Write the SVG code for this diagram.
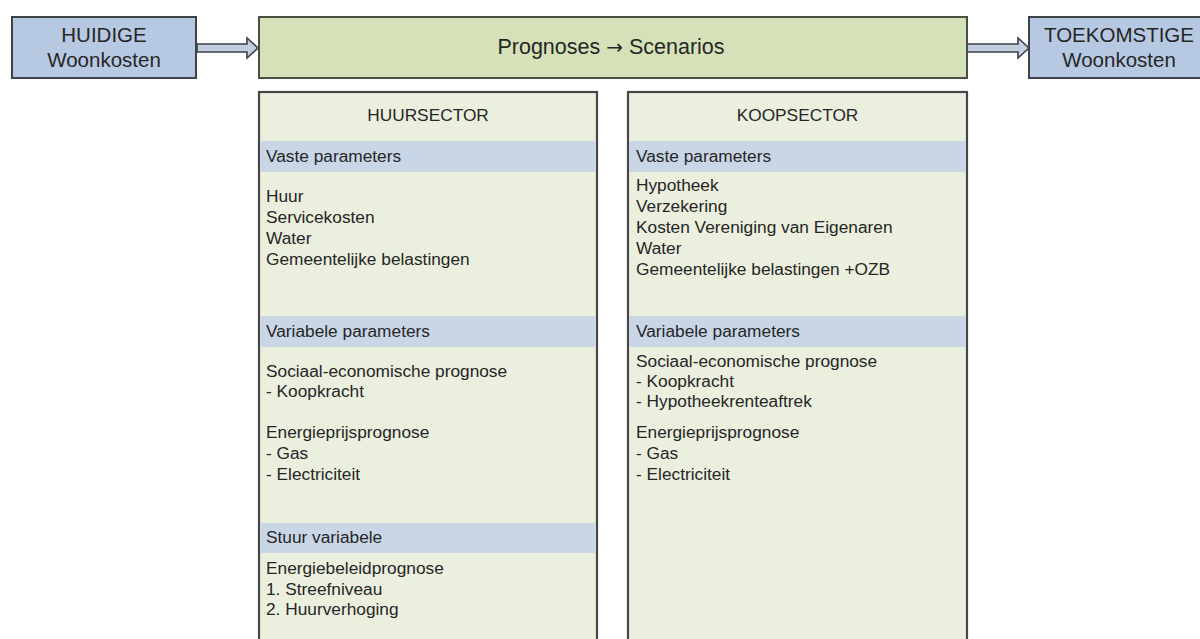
<svg xmlns="http://www.w3.org/2000/svg" width="1200" height="639" viewBox="0 0 1200 639">
<style>
.t{font-family:"Liberation Sans",Arial,sans-serif;fill:#262626}
.hd{font-size:20.5px;text-anchor:middle}
.b{font-size:17.3px}
.c{text-anchor:middle}
.blue{fill:#b7c9e2;stroke:#3d4148;stroke-width:2}
.green{fill:#d5e2b9;stroke:#4a5040;stroke-width:2}
.sector{fill:#ebefde;stroke:#474747;stroke-width:2.2}
.band{fill:#c9d6e6}
.arrow{fill:#c3cde0;stroke:#3a404c;stroke-width:1.6;stroke-linejoin:miter}
</style>
<rect width="1200" height="639" fill="#ffffff"/>
<g id="connectors">
<polygon class="arrow" points="197,44 247,44 247,38 258,48 247,58 247,52 197,52"/>
<polygon class="arrow" points="967,44 1018,44 1018,38 1029,48 1018,58 1018,52 967,52"/>
</g>
<g id="huidige">
<rect class="blue" x="12" y="17" width="184" height="61"/>
<text class="t hd" x="104" y="42">HUIDIGE</text>
<text class="t hd" x="104" y="67">Woonkosten</text>
</g>
<g id="prognoses">
<rect class="green" x="259" y="17" width="708" height="61"/>
<text class="t" x="611" y="54" font-size="21.5" text-anchor="middle">Prognoses <tspan font-family="DejaVu Sans" font-size="20">→</tspan> Scenarios</text>
</g>
<g id="toekomstige">
<rect class="blue" x="1029" y="17" width="185" height="61"/>
<text class="t hd" x="1119" y="42">TOEKOMSTIGE</text>
<text class="t hd" x="1119" y="67">Woonkosten</text>
</g>
<g id="huursector">
<rect class="sector" x="259" y="92" width="338" height="560"/>
<rect class="band" x="260.1" y="141" width="335.8" height="31"/>
<rect class="band" x="260.1" y="316" width="335.8" height="31"/>
<rect class="band" x="260.1" y="523" width="335.8" height="30"/>
<text class="t b c" x="428" y="121">HUURSECTOR</text>
<text class="t b" x="266" y="162">Vaste parameters</text>
<text class="t b" x="266" y="202">Huur</text>
<text class="t b" x="266" y="223">Servicekosten</text>
<text class="t b" x="266" y="244">Water</text>
<text class="t b" x="266" y="265">Gemeentelijke belastingen</text>
<text class="t b" x="266" y="337">Variabele parameters</text>
<text class="t b" x="266" y="377">Sociaal-economische prognose</text>
<text class="t b" x="266" y="397">- Koopkracht</text>
<text class="t b" x="266" y="438">Energieprijsprognose</text>
<text class="t b" x="266" y="459">- Gas</text>
<text class="t b" x="266" y="480">- Electriciteit</text>
<text class="t b" x="266" y="543">Stuur variabele</text>
<text class="t b" x="266" y="574">Energiebeleidprognose</text>
<text class="t b" x="266" y="595">1. Streefniveau</text>
<text class="t b" x="266" y="615">2. Huurverhoging</text>
</g>
<g id="koopsector">
<rect class="sector" x="628" y="92" width="339" height="560"/>
<rect class="band" x="629.1" y="141" width="336.8" height="31"/>
<rect class="band" x="629.1" y="316" width="336.8" height="31"/>
<text class="t b c" x="797.5" y="121">KOOPSECTOR</text>
<text class="t b" x="636" y="162">Vaste parameters</text>
<text class="t b" x="636" y="191">Hypotheek</text>
<text class="t b" x="636" y="212">Verzekering</text>
<text class="t b" x="636" y="233">Kosten Vereniging van Eigenaren</text>
<text class="t b" x="636" y="254">Water</text>
<text class="t b" x="636" y="275">Gemeentelijke belastingen +OZB</text>
<text class="t b" x="636" y="337">Variabele parameters</text>
<text class="t b" x="636" y="367">Sociaal-economische prognose</text>
<text class="t b" x="636" y="387">- Koopkracht</text>
<text class="t b" x="636" y="407">- Hypotheekrenteaftrek</text>
<text class="t b" x="636" y="438">Energieprijsprognose</text>
<text class="t b" x="636" y="459">- Gas</text>
<text class="t b" x="636" y="480">- Electriciteit</text>
</g>
</svg>
